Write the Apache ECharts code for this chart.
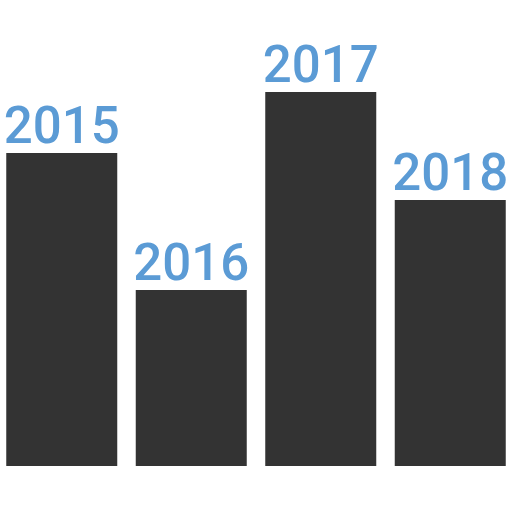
<!DOCTYPE html>
<html>
<head>
<meta charset="utf-8">
<script src="https://cdn.jsdelivr.net/npm/echarts@6/dist/echarts.min.js"></script>
<style>html,body{margin:0;padding:0;background:#fff;overflow:hidden}#c{width:518px;height:512px;margin-left:-3px}</style>
</head>
<body>
<div id="c"></div>
<script>
const categories = ['2015', '2016', '2017', '2018'];
const values = [313, 176, 374, 266];
const yMax = 466;

const chart = echarts.init(document.getElementById('c'), null, {renderer: 'canvas'});
chart.setOption({
  animation: false,
  grid: {left: 0, right: 0, top: 0, bottom: 46},
  xAxis: {
    type: 'category',
    data: categories,
    axisLine: {show: false},
    axisTick: {show: false},
    axisLabel: {show: false}
  },
  yAxis: {
    type: 'value',
    min: 0,
    max: yMax,
    show: false,
    splitLine: {show: false}
  },
  series: [{
    type: 'bar',
    data: values,
    barWidth: 111,
    itemStyle: {color: '#333333'},
    label: {
      show: true,
      position: 'top',
      distance: -3,
      formatter: p => p.name,
      color: '#5b9bd5',
      fontFamily: 'Roboto',
      fontSize: 51,
      fontWeight: 500
    }
  }]
});
</script>
</body>
</html>
